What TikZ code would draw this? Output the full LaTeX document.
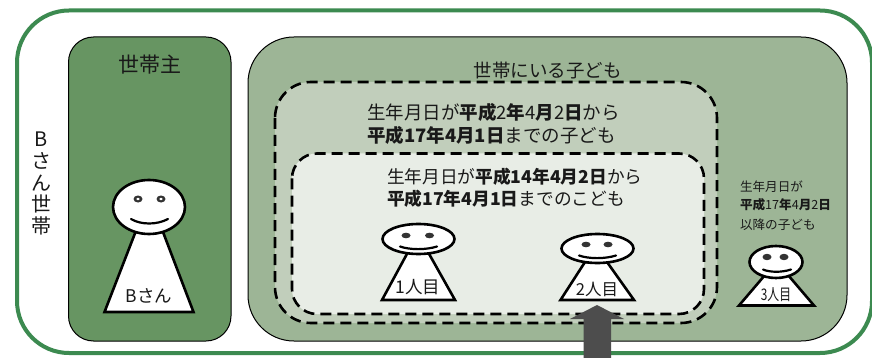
\documentclass[tikz,border=0pt]{standalone}
\usepackage{fontspec}
\setmainfont{Noto Sans CJK JP}
\definecolor{outerg}{HTML}{3C8A50}
\definecolor{darkg}{HTML}{679562}
\definecolor{midg}{HTML}{9DB596}
\definecolor{lightg}{HTML}{C1CEBB}
\definecolor{paleg}{HTML}{E8EDE6}
\definecolor{arrowg}{HTML}{4D4D4D}
\newcommand{\jp}[1]{\fontsize{#1}{#1}\selectfont}
\tikzset{
  solidbox/.style={draw=black,line width=1pt},
  dashbox/.style={draw=black,line width=2.6pt,dash pattern=on 11pt off 6pt},
  face/.style={draw=black,fill=white,line width=2.6pt},
  feat/.style={draw=black,line width=2.2pt,line cap=round},
  eye/.style={fill=black!80},
  lbl/.style={inner sep=0pt,outer sep=0pt,align=left,text=black!90},
}
\begin{document}
\begin{tikzpicture}[x=1pt,y=-1pt]
\useasboundingbox (0,0) rectangle (872,358);
\fill[white] (0,0) rectangle (872,358);
\draw[outerg,line width=4pt,rounded corners=52pt] (17,10.5) rectangle (872,353);
\draw[solidbox,fill=darkg,rounded corners=25pt] (68.5,37) rectangle (231,341);
\draw[solidbox,fill=midg,rounded corners=46pt] (248,37) rectangle (847,341);
\draw[dashbox,fill=lightg,rounded corners=36pt] (275,82) rectangle (717,323);
\draw[dashbox,fill=paleg,rounded corners=25pt] (292,153.5) rectangle (704,314);
% labels
\node[lbl] (tA) at (150,65) {\jp{21}世帯主};
\node[lbl] (tB) at (547.5,70) {\jp{18.5}世帯にいる子ども};
\node[lbl,align=center,font=\fontsize{20}{21.8}\selectfont] (tC) at (41,183.5) {B\\さ\\ん\\世\\帯};
\node[lbl,anchor=west] (t1) at (367,112) {\jp{18.5}生年月日が\textbf{平成}2\textbf{年}4\textbf{月}2\textbf{日}から};
\node[lbl,anchor=west] (t2) at (367,135) {\jp{18.5}\textbf{平成17年4月1日}までの子ども};
\node[lbl,anchor=west] (t3) at (387,177) {\jp{17.7}生年月日が\textbf{平成14年4月2日}から};
\node[lbl,anchor=west] (t4) at (387,199) {\jp{17.7}\textbf{平成17年4月1日}までのこども};
\node[lbl,anchor=west] (t5a) at (740,187) {\jp{12.6}生年月日が};
\node[lbl,anchor=west] (t5b) at (740,205) {\jp{12.6}\textbf{平成}17\textbf{年}4\textbf{月}2\textbf{日}};
\node[lbl,anchor=west] (t5c) at (740,225) {\jp{12.6}以降の子ども};
% person B
\draw[face] (135.5,232) -- (104.5,312) -- (193.5,312) -- (163,232) -- cycle;
\draw[face] (149,207) ellipse (36pt and 27pt);
\fill[eye] (138,199) ellipse (4.5pt and 3.5pt);
\fill[eye] (161,199) ellipse (4.5pt and 3.5pt);
\fill[white] (138,199) ellipse (1.8pt and 1.3pt);
\fill[white] (161,199) ellipse (1.8pt and 1.3pt);
\draw[feat] (131,219) .. controls (141,225) and (157,225) .. (168,219);
\node[lbl] (nB) at (149,296) {\jp{17.5}Bさん};
% person 1
\draw[face] (408,252) -- (382,300) -- (455,300) -- (428,252) -- cycle;
\draw[face] (418.5,239) ellipse (36pt and 15pt);
\fill[eye] (406,235.5) ellipse (4.5pt and 2.8pt);
\fill[eye] (429.5,235.5) ellipse (4.5pt and 2.8pt);
\draw[feat] (400,246.5) .. controls (410,250) and (426,250) .. (437,246.5);
\node[lbl] (n1) at (418,287.5) {\jp{17.5}1人目};
% person 2
\draw[face] (585,262) -- (560.5,300) -- (634,300) -- (607,262) -- cycle;
\draw[face] (597.5,248.5) ellipse (36pt and 14.5pt);
\fill[eye] (586,244.5) ellipse (4.5pt and 2.8pt);
\fill[eye] (608,244.5) ellipse (4.5pt and 2.8pt);
\draw[feat] (579,255.5) .. controls (589,259) and (605,259) .. (616,255.5);
\node[lbl] (n2) at (597,289) {\jp{16.5}2人目};
% person 3
\draw[face] (765,275) -- (739,305.5) -- (814,305.5) -- (788,275) -- cycle;
\draw[face] (776,262) ellipse (26.5pt and 16pt);
\fill[eye] (767,257) ellipse (4.5pt and 3.2pt);
\fill[eye] (784,257) ellipse (4.5pt and 3.2pt);
\draw[feat] (763,269.5) .. controls (770,272.5) and (782,272.5) .. (791,269.5);
\node[lbl,xscale=.74] (n3) at (776,295) {\jp{16}3人目};
% arrow
\fill[arrowg] (583.5,359) -- (583.5,319) -- (570,319) -- (597,305) -- (624,319) -- (611,319) -- (611,359) -- cycle;
\end{tikzpicture}
\end{document}
